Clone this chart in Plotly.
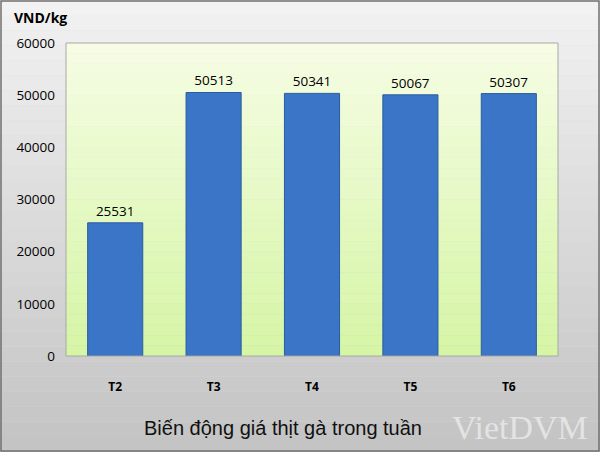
import plotly.graph_objects as go

# Data
days = ["T2", "T3", "T4", "T5", "T6"]
prices = [25531, 50513, 50341, 50067, 50307]
y_ticks = [0, 10000, 20000, 30000, 40000, 50000, 60000]

W, H = 600, 452
ml, mr, mt, mb = 66, 42, 43, 96
pw, ph = W - ml - mr, H - mt - mb

fig = go.Figure()
fig.add_trace(go.Bar(
    x=days, y=prices,
    text=[str(p) for p in prices], textposition="outside",
    textfont=dict(family="Open Sans, Arial", size=13.5, color="black"),
    marker=dict(color="#3b75c8", line=dict(color="#2b5c9e", width=1)),
    cliponaxis=False,
))

# background gradient bands (whole figure, grey) and plot area (green)
shapes = []
x0p, x1p = -ml / pw, 1 + mr / pw
y0p, y1p = -mb / ph, 1 + mt / ph
n = 30
for i in range(n):
    t = i / (n - 1)
    g = int(242 - t * (242 - 196))
    shapes.append(dict(type="rect", xref="paper", yref="paper", layer="below",
                       x0=x0p, x1=x1p,
                       y0=y1p - (y1p - y0p) * i / n, y1=y1p - (y1p - y0p) * (i + 1) / n,
                       fillcolor=f"rgb({g},{g},{g})", line_width=0))
for i in range(n):
    t = i / (n - 1)
    r = int(246 - t * (246 - 214))
    g = int(253 - t * (253 - 246))
    b = int(228 - t * (228 - 166))
    shapes.append(dict(type="rect", xref="paper", yref="paper", layer="below",
                       x0=0, x1=1, y0=1 - i / n, y1=1 - (i + 1) / n,
                       fillcolor=f"rgb({r},{g},{b})", line_width=0))
shapes.append(dict(type="rect", xref="paper", yref="paper", x0=0, x1=1, y0=0, y1=1,
                   line=dict(color="#a8a8a8", width=1), layer="above"))
shapes.append(dict(type="rect", xref="paper", yref="paper",
                   x0=x0p + 1 / pw, x1=x1p - 1 / pw, y0=y0p + 1 / ph, y1=y1p - 1 / ph,
                   line=dict(color="#707070", width=1.5), layer="above"))

fig.update_layout(
    width=W, height=H,
    margin=dict(l=ml, r=mr, t=mt, b=mb),
    paper_bgcolor="#dcdcdc", plot_bgcolor="#eefbd0",
    bargap=0.44, showlegend=False,
    shapes=shapes,
    font=dict(family="Open Sans, Arial", color="black"),
    xaxis=dict(showgrid=False, ticks="", showline=False, ticklabelstandoff=22,
               tickfont=dict(size=12, family="Open Sans, Arial", weight="bold")),
    yaxis=dict(range=[0, 60000], tickvals=y_ticks, ticktext=[str(v) for v in y_ticks],
               showgrid=False, zeroline=False,
               showline=False, ticks="", tickfont=dict(size=13.5), ticklabelstandoff=10),
    annotations=[
        dict(text="<b>VND/kg</b>", xref="paper", yref="paper", x=x0p + 12 / pw,
             y=y1p - 6 / ph, xanchor="left", yanchor="top", showarrow=False,
             font=dict(size=14)),
        dict(text="Biến động giá thịt gà trong tuần", xref="paper", yref="paper",
             x=(283 - ml) / pw, y=-(428 - mt - ph) / ph, xanchor="center",
             yanchor="middle", showarrow=False,
             font=dict(size=20, family="Liberation Sans, Arial", color="#111")),
        dict(text="VietDVM", xref="paper", yref="paper",
             x=(590 - ml) / pw, y=-(428 - mt - ph) / ph, xanchor="right",
             yanchor="middle", showarrow=False,
             font=dict(size=34, family="Liberation Serif, serif", color="rgba(255,255,255,0.55)")),
    ],
)

fig.write_html("out.html", config={"displayModeBar": False},
               post_script="document.body.style.margin='0';")
